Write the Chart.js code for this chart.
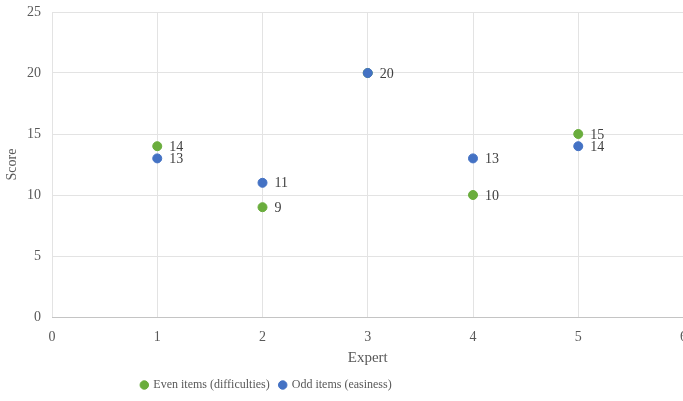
<!DOCTYPE html>
<html>
<head>
<meta charset="utf-8">
<script src="https://cdn.jsdelivr.net/npm/chart.js@4/dist/chart.umd.min.js"></script>
<style>
    html, body { margin: 0; padding: 0; background: #fff; overflow: hidden; }
    #wrap { position: relative; width: 689px; height: 401px; }
</style>
</head>
<body>
<div id="wrap"><canvas id="chart"></canvas></div>
<script>
// Expert scores, even vs odd items
const experts = [1, 2, 3, 4, 5];
const evenScores = [14, 9, 20, 10, 15];
const oddScores = [13, 11, 20, 13, 14];
const xTicks = [0, 1, 2, 3, 4, 5, 6];
const yTicks = [0, 5, 10, 15, 20, 25];

const FONT = '"Liberation Serif", "Times New Roman", serif';
const TEXT = '#595959';

const toPoints = (xs, ys) => xs.map((x, i) => ({ x: x, y: ys[i] }));

// small inline value-label plugin: number to the right of each point,
// drawn once per position so coincident points don't double up
const valueLabels = {
    id: 'valueLabels',
    afterDatasetsDraw(chart) {
        const ctx = chart.ctx;
        const seen = new Set();
        ctx.save();
        ctx.font = '14px ' + FONT;
        ctx.fillStyle = '#404040';
        ctx.textBaseline = 'middle';
        ctx.textAlign = 'left';
        chart.data.datasets.forEach((ds, di) => {
            const meta = chart.getDatasetMeta(di);
            if (meta.hidden) return;
            meta.data.forEach((pt, i) => {
                const key = ds.data[i].x + ':' + ds.data[i].y;
                if (seen.has(key)) return;
                seen.add(key);
                ctx.fillText(String(ds.data[i].y), pt.x + 12, pt.y + 1);
            });
        });
        ctx.restore();
    }
};

// legend sits left of centre, under the left part of the plot
const legendShift = {
    id: 'legendShift',
    afterLayout(chart) {
        chart.legend.right -= 160;
    }
};

new Chart(document.getElementById('chart'), {
    type: 'scatter',
    data: {
        datasets: [
            {
                label: 'Even items (difficulties)',
                data: toPoints(experts, evenScores),
                backgroundColor: '#6aad3d',
                borderColor: '#6aad3d',
                pointRadius: 4.5,
                order: 1
            },
            {
                label: 'Odd items (easiness)',
                data: toPoints(experts, oddScores),
                backgroundColor: '#4472c4',
                borderColor: '#4472c4',
                pointRadius: 4.5,
                order: 0
            }
        ]
    },
    options: {
        responsive: true,
        maintainAspectRatio: false,
        animation: false,
        layout: { padding: { top: 0, left: 4, bottom: 0, right: 0 } },
        scales: {
            x: {
                type: 'linear',
                min: 0,
                max: 6,
                afterBuildTicks: (axis) => { axis.ticks = xTicks.map(v => ({ value: v })); },
                afterFit: (axis) => { axis.height = 52; axis.paddingRight = 0; },
                grid: { color: '#e3e3e3', drawTicks: false, tickLength: 0 },
                border: { color: '#c4c4c4' },
                ticks: { color: TEXT, font: { family: FONT, size: 14 }, padding: 12 },
                title: { display: true, text: 'Expert', color: TEXT, font: { family: FONT, size: 15 }, padding: { top: 2, bottom: 2 } }
            },
            y: {
                min: 0,
                max: 25,
                afterBuildTicks: (axis) => { axis.ticks = yTicks.map(v => ({ value: v })); },
                afterFit: (axis) => { axis.width = 48; axis.paddingTop = 12; },
                grid: { color: '#e3e3e3', drawTicks: false, tickLength: 0 },
                border: { display: false },
                ticks: { color: TEXT, font: { family: FONT, size: 14 }, padding: 11 },
                title: { display: true, text: 'Score', color: TEXT, font: { family: FONT, size: 14 }, padding: { top: 0, bottom: 0 } }
            }
        },
        plugins: {
            legend: {
                position: 'bottom',
                labels: {
                    usePointStyle: true,
                    pointStyle: 'circle',
                    boxWidth: 6,
                    boxHeight: 6,
                    padding: 10,
                    color: TEXT,
                    font: { family: FONT, size: 12 },
                    sort: (a, b) => a.datasetIndex - b.datasetIndex
                }
            },
            tooltip: { enabled: false }
        }
    },
    plugins: [valueLabels, legendShift]
});
</script>
</body>
</html>
